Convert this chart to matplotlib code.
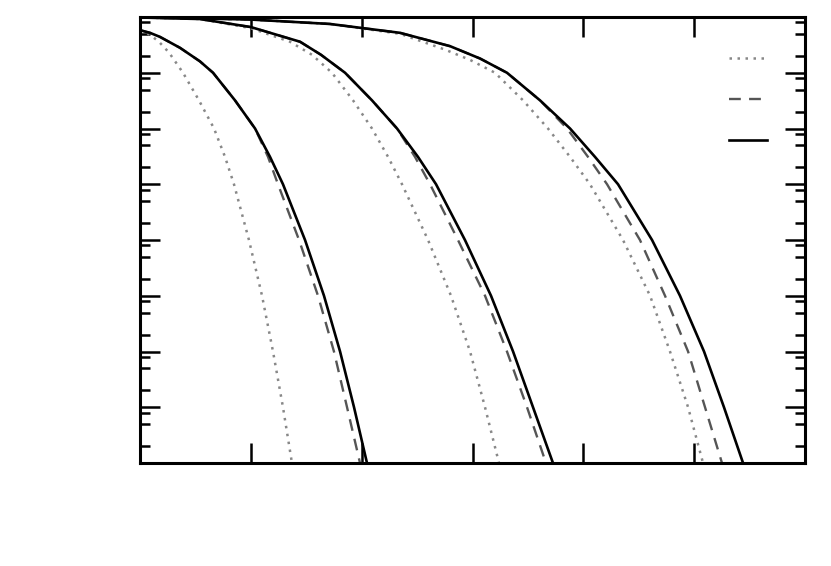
import numpy as np
import matplotlib
matplotlib.use('Agg')
import matplotlib.pyplot as plt
from matplotlib.ticker import LogLocator, NullFormatter, FixedLocator

# values: x (linear 0..6), y (log, 1e-8 .. 1)
x_1_dot = [0, 0.090, 0.171, 0.262, 0.388, 0.532, 0.668, 0.767, 0.848, 0.983, 1.101, 1.200, 1.290, 1.371]
y_1_dot = [0.58, 0.48, 0.36, 0.23, 0.1, 0.032, 1e-2, 0.0031, 1e-3, 1e-4, 1e-5, 1e-6, 1e-7, 1e-8]
x_1_dash = [0, 0.090, 0.180, 0.361, 0.541, 0.659, 0.857, 1.038, 1.155, 1.245, 1.435, 1.606, 1.750, 1.868, 1.985]
y_1_dash = [0.58, 0.52, 0.44, 0.28, 0.16, 0.1, 0.032, 1e-2, 0.0031, 1e-3, 1e-4, 1e-5, 1e-6, 1e-7, 1e-8]
x_1_solid = [0, 0.090, 0.180, 0.361, 0.541, 0.659, 0.857, 1.038, 1.173, 1.290, 1.489, 1.660, 1.805, 1.931, 2.048]
y_1_solid = [0.58, 0.52, 0.44, 0.28, 0.16, 0.1, 0.032, 1e-2, 0.0031, 1e-3, 1e-4, 1e-5, 1e-6, 1e-7, 1e-8]

x_2_dot = [0, 0.541, 1.0, 1.353, 1.552, 1.732, 1.922, 2.093, 2.238, 2.364, 2.599, 2.806, 2.978, 3.113, 3.239]
y_2_dot = [0.98, 0.92, 0.63, 0.36, 0.21, 0.1, 0.032, 1e-2, 0.0031, 1e-3, 1e-4, 1e-5, 1e-6, 1e-7, 1e-8]
x_2_dash = [0, 0.541, 1.0, 1.444, 1.633, 1.850, 2.093, 2.319, 2.481, 2.617, 2.869, 3.113, 3.311, 3.492, 3.663]
y_2_dash = [0.98, 0.92, 0.66, 0.36, 0.21, 0.1, 0.032, 1e-2, 0.0031, 1e-3, 1e-4, 1e-5, 1e-6, 1e-7, 1e-8]
x_2_solid = [0, 0.541, 1.0, 1.444, 1.633, 1.850, 2.093, 2.319, 2.508, 2.671, 2.932, 3.167, 3.366, 3.546, 3.726]
y_2_solid = [0.98, 0.92, 0.66, 0.36, 0.21, 0.1, 0.032, 1e-2, 0.0031, 1e-3, 1e-4, 1e-5, 1e-6, 1e-7, 1e-8]

x_3_dot = [0, 1.0, 1.714, 2.346, 2.752, 2.978, 3.203, 3.456, 3.681, 3.880, 4.060, 4.358, 4.602, 4.782, 4.945, 5.080]
y_3_dot = [1.0, 0.90, 0.75, 0.50, 0.26, 0.17, 0.1, 0.032, 1e-2, 0.0031, 1e-3, 1e-4, 1e-5, 1e-6, 1e-7, 1e-8]
x_3_dash = [0, 1.0, 1.714, 2.346, 2.797, 3.068, 3.311, 3.609, 3.853, 4.042, 4.214, 4.511, 4.737, 4.945, 5.098, 5.251]
y_3_dash = [1.0, 0.90, 0.75, 0.52, 0.30, 0.18, 0.1, 0.032, 1e-2, 0.0031, 1e-3, 1e-4, 1e-5, 1e-6, 1e-7, 1e-8]
x_3_solid = [0, 1.0, 1.714, 2.346, 2.797, 3.068, 3.311, 3.609, 3.880, 4.105, 4.313, 4.620, 4.872, 5.089, 5.269, 5.441]
y_3_solid = [1.0, 0.90, 0.75, 0.52, 0.30, 0.18, 0.1, 0.032, 1e-2, 0.0031, 1e-3, 1e-4, 1e-5, 1e-6, 1e-7, 1e-8]

x_ticks = [1, 2, 3, 4, 5]

fig = plt.figure(figsize=(8.31, 5.66), dpi=100)
ax = fig.add_axes([140/831, 103/566, 665/831, 446/566])

dot_style = dict(color='#888888', lw=1.8, ls=(0, (1, 2.2)))
dash_style = dict(color='#555555', lw=1.7, ls=(0, (5, 3.5)))
solid_style = dict(color='black', lw=1.9, ls='-')

for xs, ys in [(x_1_dot, y_1_dot), (x_2_dot, y_2_dot), (x_3_dot, y_3_dot)]:
    l_dot, = ax.plot(xs, ys, **dot_style)
for xs, ys in [(x_1_dash, y_1_dash), (x_2_dash, y_2_dash), (x_3_dash, y_3_dash)]:
    l_dash, = ax.plot(xs, ys, **dash_style)
for xs, ys in [(x_1_solid, y_1_solid), (x_2_solid, y_2_solid), (x_3_solid, y_3_solid)]:
    l_solid, = ax.plot(xs, ys, **solid_style)

ax.set_yscale('log')
ax.set_xlim(0, 6)
ax.set_ylim(1e-8, 1)

ax.xaxis.set_major_locator(FixedLocator(x_ticks))
ax.yaxis.set_major_locator(LogLocator(base=10, numticks=20))
ax.yaxis.set_minor_locator(LogLocator(base=10, subs=(2, 5, 8), numticks=20))
ax.yaxis.set_minor_formatter(NullFormatter())

ax.tick_params(which='both', direction='in', top=True, right=True,
               labelbottom=False, labelleft=False, width=1.8)
ax.tick_params(which='major', length=14.5)
ax.tick_params(which='minor', length=7)
ax.tick_params(axis='x', which='minor', bottom=False, top=False)

for s in ax.spines.values():
    s.set_linewidth(2.2)

ax.legend([l_dot, l_dash, l_solid], ['', '', ''], frameon=False,
          loc='upper right', bbox_to_anchor=(0.961, 0.95),
          handlelength=2.7, handletextpad=0.0, labelspacing=1.95)

plt.savefig('out.png', dpi=100)
